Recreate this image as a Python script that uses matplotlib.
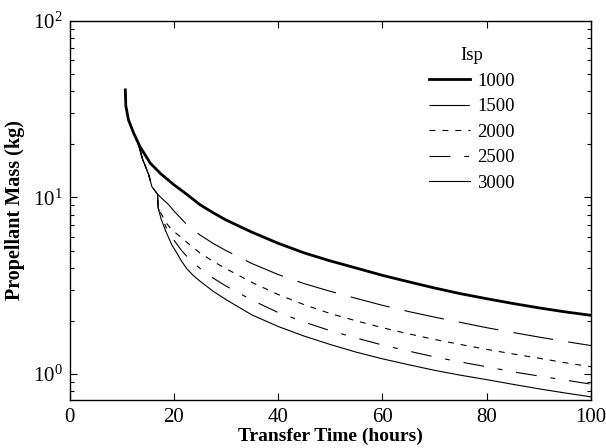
import matplotlib
matplotlib.use("Agg")
import matplotlib.pyplot as plt
from matplotlib.ticker import LogLocator, LogFormatterMathtext, NullFormatter

plt.rcParams['font.family'] = ['Liberation Serif', 'DejaVu Serif']
plt.rcParams['mathtext.fontset'] = 'stix'
plt.rcParams['lines.scale_dashes'] = False

# common initial branch (shared by all curves)
t_common = [10.7, 10.8, 11.3, 12.3]
m_common = [40.6, 33.0, 27.5, 23.1]

t_1000 = t_common + [13.5, 15.5, 17.5, 20, 22.5, 25, 27.5, 30, 35, 40, 45, 50, 55, 60, 65, 70, 75, 80, 85, 90, 95, 100]
m_1000 = m_common + [19.4, 15.6, 13.6, 11.8, 10.4, 9.1, 8.2, 7.45, 6.35, 5.5, 4.85, 4.37, 3.98, 3.62, 3.33, 3.07, 2.85, 2.67, 2.51, 2.37, 2.25, 2.15]

t_1500 = t_common + [13.0, 14.0, 15.2, 15.8, 16.9, 19, 20, 22.7, 25, 27.5, 30, 35, 40, 45, 50, 55, 60, 65, 70, 75, 80, 85, 90, 95, 100]
m_1500 = m_common + [21.0, 16.5, 13.4, 11.5, 10.4, 9.1, 8.4, 6.9, 6.13, 5.5, 5.0, 4.22, 3.66, 3.25, 2.94, 2.68, 2.45, 2.26, 2.1, 1.96, 1.83, 1.72, 1.62, 1.53, 1.45]

t_branch = t_common + [13.0, 14.0, 15.2, 15.8, 16.9, 17.0]
m_branch = m_common + [21.0, 16.5, 13.4, 11.5, 10.4, 8.7]

t_2000 = t_branch + [17.7, 18.5, 19.5, 21.6, 23.1, 25, 27.5, 30, 35, 40, 45, 50, 55, 60, 65, 70, 75, 80, 85, 90, 95, 100]
m_2000 = m_branch + [7.96, 7.2, 6.6, 5.87, 5.38, 4.85, 4.35, 3.95, 3.3, 2.82, 2.47, 2.2, 2.0, 1.83, 1.69, 1.57, 1.47, 1.38, 1.3, 1.23, 1.16, 1.10]

t_2500 = t_branch + [17.7, 18.8, 20, 21.5, 23.1, 25.4, 27.5, 30, 35, 40, 45, 50, 55, 60, 65, 70, 75, 80, 85, 90, 95, 100]
m_2500 = m_branch + [7.7, 6.5, 5.74, 5.0, 4.43, 3.88, 3.5, 3.15, 2.62, 2.23, 1.97, 1.76, 1.6, 1.46, 1.35, 1.25, 1.17, 1.1, 1.03, 0.975, 0.925, 0.877]

t_3000 = t_branch + [17.6, 18.5, 19.6, 20.6, 21.5, 22.5, 23.7, 25, 27.5, 30, 35, 40, 45, 50, 55, 60, 65, 70, 75, 80, 85, 90, 95, 100]
m_3000 = m_branch + [7.5, 6.4, 5.4, 4.83, 4.35, 3.95, 3.62, 3.36, 2.95, 2.64, 2.16, 1.86, 1.64, 1.47, 1.33, 1.22, 1.13, 1.05, 0.985, 0.93, 0.875, 0.825, 0.782, 0.743]

labels = ['1000', '1500', '2000', '2500', '3000']

fig = plt.figure(figsize=(6.06, 4.48), dpi=100)
ax = fig.add_axes([0.1147, 0.1071, 0.8605, 0.8467])

ax.plot(t_1000, m_1000, color='black', lw=2.0, label=labels[0])
ax.plot(t_1500, m_1500, color='black', lw=0.8, dashes=(29, 11), label=labels[1])
ax.plot(t_2000, m_2000, color='black', lw=0.8, dashes=(4.3, 5), label=labels[2])
ax.plot(t_2500, m_2500, color='black', lw=0.8, dashes=(15, 10, 3.5, 10), label=labels[3])
ax.plot(t_3000, m_3000, color='black', lw=0.8, label=labels[4])

ax.set_yscale('log')
ax.set_xlim(0, 100)
ax.set_ylim(0.713, 100)
ax.set_xticks([0, 20, 40, 60, 80, 100])
ax.yaxis.set_major_locator(LogLocator(base=10, numticks=10))
ax.yaxis.set_minor_locator(LogLocator(base=10, subs=range(2, 10), numticks=20))
ax.yaxis.set_major_formatter(LogFormatterMathtext())
ax.yaxis.set_minor_formatter(NullFormatter())

ax.tick_params(which='both', direction='in', top=True, right=True, labelsize=15, width=0.8, colors='black')
ax.tick_params(which='major', length=5)
ax.tick_params(which='minor', length=3)
ax.tick_params(axis='x', pad=6)
ax.tick_params(axis='y', pad=5)
for s in ax.spines.values():
    s.set_linewidth(1.0)

ax.set_xlabel('Transfer Time (hours)', fontsize=14, fontweight='bold', labelpad=0)
ax.set_ylabel('Propellant Mass (kg)', fontsize=14.5, fontweight='bold', labelpad=6)

leg = ax.legend(title='Isp', loc='upper left', bbox_to_anchor=(0.672, 0.955), frameon=False,
                fontsize=13.5, title_fontsize=13.5, handlelength=2.15, handletextpad=0.4,
                labelspacing=0.45, borderpad=0)

fig.savefig('out.png', dpi=100)
